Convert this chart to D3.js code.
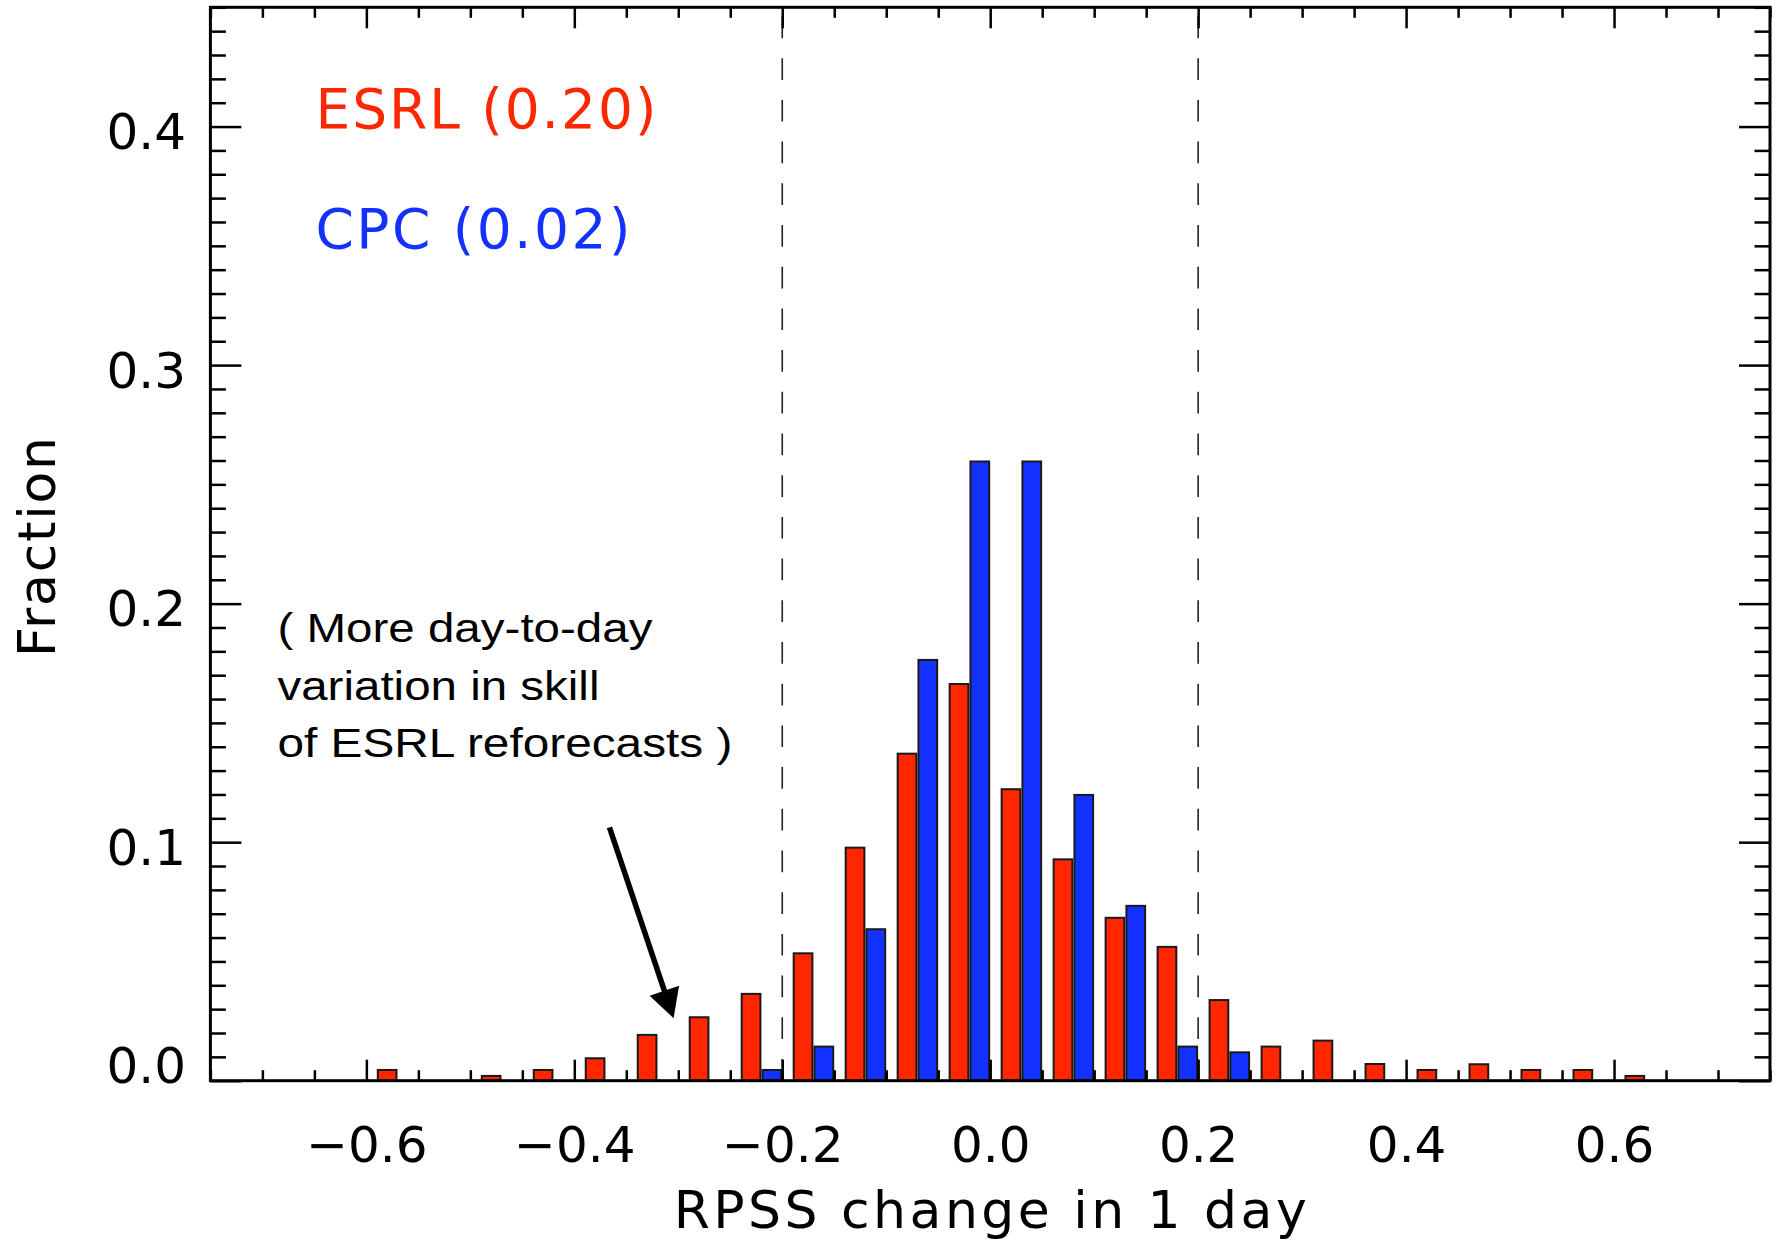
<!DOCTYPE html>
<html>
<head>
<meta charset="utf-8">
<script src="https://cdn.jsdelivr.net/npm/d3@7"></script>
<style>
  body { margin: 0; background: #fff; }
  svg { display: block; }
  .idl { font-family: "DejaVu Sans", sans-serif; }
</style>
</head>
<body>
<div id="chart"></div>
<script>
// bin centres (each pair of bars straddles one of these)
const binCenters = [-0.57, -0.52, -0.47, -0.42, -0.37, -0.32, -0.27, -0.22, -0.17, -0.12, -0.07, -0.02,
                    0.03, 0.08, 0.13, 0.18, 0.23, 0.28, 0.33, 0.38, 0.43, 0.48, 0.53, 0.58, 0.63];
const esrl = [0.0045, 0, 0.002, 0.0045, 0.0094, 0.0192, 0.0266, 0.0364, 0.0534, 0.0977, 0.1371, 0.1663,
              0.1222, 0.0928, 0.0683, 0.0561, 0.0338, 0.0143, 0.0168, 0.0070, 0.0045, 0.0069, 0.0045, 0.0045, 0.002];
const cpc  = [0, 0, 0, 0, 0, 0, 0, 0.0045, 0.0143, 0.0635, 0.1764, 0.2596,
              0.2596, 0.1198, 0.0733, 0.0143, 0.0119, 0, 0, 0, 0, 0, 0, 0, 0];

const xMajor = [-0.6, -0.4, -0.2, 0.0, 0.2, 0.4, 0.6];
const xMinor = [-0.75, -0.7, -0.65, -0.55, -0.5, -0.45, -0.35, -0.3, -0.25, -0.15, -0.1, -0.05,
                0.05, 0.1, 0.15, 0.25, 0.3, 0.35, 0.45, 0.5, 0.55, 0.65, 0.7, 0.75];
const yMajor = [0.0, 0.1, 0.2, 0.3, 0.4];
const yMinor = d3.range(0, 46).map(i => i / 100).filter(v => Math.round(v * 100) % 10 !== 0);
const refLines = [-0.2, 0.2];

const W = 1782, H = 1242;
const svg = d3.select('#chart').append('svg')
    .attr('width', W)
    .attr('height', H);

const x = d3.scaleLinear().domain([-0.75, 0.75]).range([210.4, 1770]);
const y = d3.scaleLinear().domain([0, 0.45]).range([1080.7, 7.3]);
const fmt = d3.format('.1f');

// dashed reference lines
svg.selectAll('line.ref')
    .data(refLines)
    .enter().append('line')
    .attr('class', 'ref')
    .attr('x1', d => x(d)).attr('x2', d => x(d))
    .attr('y1', y(0)).attr('y2', y(0.45))
    .attr('stroke', '#222')
    .attr('stroke-width', 1.6)
    .attr('stroke-dasharray', '21.7 20');

// bars
const bars = svg.append('g');
bars.selectAll('rect.esrl')
    .data(binCenters.map((c, i) => ({ c, v: esrl[i] })).filter(d => d.v > 0))
    .enter().append('rect')
    .attr('x', d => x(d.c - 0.019))
    .attr('width', d => x(d.c - 0.001) - x(d.c - 0.019))
    .attr('y', d => y(d.v))
    .attr('height', d => y(0) - y(d.v))
    .attr('fill', '#ff2600')
    .attr('stroke', '#1a1a1a')
    .attr('stroke-width', 2);

bars.selectAll('rect.cpc')
    .data(binCenters.map((c, i) => ({ c, v: cpc[i] })).filter(d => d.v > 0))
    .enter().append('rect')
    .attr('x', d => x(d.c + 0.001))
    .attr('width', d => x(d.c + 0.019) - x(d.c + 0.001))
    .attr('y', d => y(d.v))
    .attr('height', d => y(0) - y(d.v))
    .attr('fill', '#1432ff')
    .attr('stroke', '#1a1a1a')
    .attr('stroke-width', 2);

// axes: ticks on all four sides, pointing inward
function axisGroup(axis, tx, ty) {
    const g = svg.append('g')
        .attr('transform', `translate(${tx},${ty})`)
        .call(axis);
    g.select('.domain').remove();
    g.selectAll('line').attr('stroke', '#000').attr('stroke-width', 2.5);
    return g;
}

const bottom = axisGroup(d3.axisBottom(x).tickValues(xMajor).tickSize(-21).tickFormat(fmt), 0, y(0));
bottom.selectAll('text')
    .attr('class', 'idl')
    .attr('y', 81).attr('dy', 0)
    .attr('font-size', 50)
    .attr('fill', '#000');
axisGroup(d3.axisBottom(x).tickValues(xMinor).tickSize(-10.5).tickFormat(''), 0, y(0));
axisGroup(d3.axisTop(x).tickValues(xMajor).tickSize(-21).tickFormat(''), 0, y(0.45));
axisGroup(d3.axisTop(x).tickValues(xMinor).tickSize(-10.5).tickFormat(''), 0, y(0.45));

const left = axisGroup(d3.axisLeft(y).tickValues(yMajor).tickSize(-31).tickFormat(fmt), x(-0.75), 0);
left.selectAll('text')
    .attr('class', 'idl')
    .attr('x', -24.4)
    .attr('dy', d => d === 0 ? 2 : 22)
    .attr('font-size', 50)
    .attr('fill', '#000');
axisGroup(d3.axisLeft(y).tickValues(yMinor).tickSize(-15.5).tickFormat(''), x(-0.75), 0);
axisGroup(d3.axisRight(y).tickValues(yMajor).tickSize(-31).tickFormat(''), x(0.75), 0);
axisGroup(d3.axisRight(y).tickValues(yMinor).tickSize(-15.5).tickFormat(''), x(0.75), 0);

// frame
svg.append('rect')
    .attr('x', x(-0.75)).attr('y', y(0.45))
    .attr('width', x(0.75) - x(-0.75))
    .attr('height', y(0) - y(0.45))
    .attr('fill', 'none')
    .attr('stroke', '#000')
    .attr('stroke-width', 3);

// axis titles
svg.append('text')
    .attr('class', 'idl')
    .attr('x', (x(-0.75) + x(0.75)) / 2)
    .attr('y', 1228)
    .attr('text-anchor', 'middle')
    .attr('font-size', 52)
    .attr('textLength', 633)
    .attr('lengthAdjust', 'spacing')
    .text('RPSS change in 1 day');

svg.append('text')
    .attr('class', 'idl')
    .attr('transform', `translate(55,${(y(0) + y(0.45)) / 2 + 3}) rotate(-90)`)
    .attr('text-anchor', 'middle')
    .attr('font-size', 52)
    .attr('textLength', 220)
    .attr('lengthAdjust', 'spacing')
    .text('Fraction');

// legend
svg.append('text')
    .attr('class', 'idl')
    .attr('x', x(-0.649)).attr('y', y(0.3994))
    .attr('font-size', 55)
    .attr('fill', '#ff2600')
    .attr('textLength', 341)
    .attr('lengthAdjust', 'spacing')
    .text('ESRL (0.20)');

svg.append('text')
    .attr('class', 'idl')
    .attr('x', x(-0.649)).attr('y', y(0.3491))
    .attr('font-size', 55)
    .attr('fill', '#1432ff')
    .attr('textLength', 315)
    .attr('lengthAdjust', 'spacing')
    .text('CPC (0.02)');

// annotation
const noteLines = ['( More day-to-day', 'variation in skill', 'of ESRL reforecasts )'];
const noteWidths = [375, 322, 455];
const noteY = [0.1839, 0.1597, 0.1358];
svg.selectAll('text.note')
    .data(noteLines)
    .enter().append('text')
    .attr('class', 'note')
    .attr('x', x(-0.6855))
    .attr('y', (d, i) => y(noteY[i]))
    .attr('font-family', '"Liberation Sans", Arial, sans-serif')
    .attr('font-size', 41)
    .attr('textLength', (d, i) => noteWidths[i])
    .attr('lengthAdjust', 'spacingAndGlyphs')
    .text(d => d);

// arrow
const tail = [x(-0.3662), y(0.1062)];
const tip = [x(-0.3045), y(0.0262)];
const dx = tip[0] - tail[0], dy = tip[1] - tail[1];
const len = Math.hypot(dx, dy);
const ux = dx / len, uy = dy / len;
const headLen = 29, headHalf = 15.5;
const base = [tip[0] - ux * headLen, tip[1] - uy * headLen];
svg.append('line')
    .attr('x1', tail[0]).attr('y1', tail[1])
    .attr('x2', base[0] + ux * 2).attr('y2', base[1] + uy * 2)
    .attr('stroke', '#000')
    .attr('stroke-width', 5.5);
svg.append('polygon')
    .attr('points', [
        tip,
        [base[0] - uy * headHalf, base[1] + ux * headHalf],
        [base[0] + uy * headHalf, base[1] - ux * headHalf]
    ].map(p => p.join(',')).join(' '))
    .attr('fill', '#000');
</script>
</body>
</html>
